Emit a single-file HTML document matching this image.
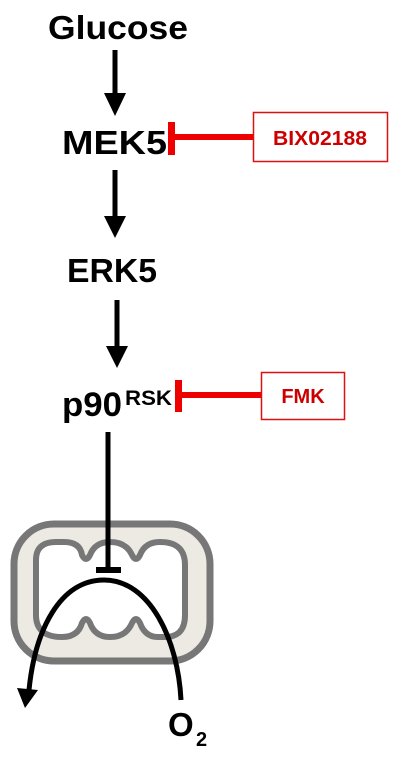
<!DOCTYPE html>
<html><head><style>
body{margin:0;background:#fff;}
svg{display:block}
text{font-family:"Liberation Sans",sans-serif;font-weight:bold;}
</style></head><body>
<svg width="400" height="760" viewBox="0 0 400 760">
<text x="118" y="39" font-size="33" text-anchor="middle" fill="#000" textLength="140" lengthAdjust="spacingAndGlyphs">Glucose</text>
<line x1="115" y1="50" x2="115" y2="95" stroke="#000" stroke-width="5"/>
<polygon points="104,93 126,93 115,116" fill="#000"/>
<text x="62" y="154" font-size="33" fill="#000" textLength="105" lengthAdjust="spacingAndGlyphs">MEK5</text>
<rect x="168" y="122" width="7" height="33" fill="#e00"/>
<line x1="172" y1="137" x2="254" y2="137" stroke="#e00" stroke-width="6"/>
<rect x="253.5" y="112.5" width="134" height="49" fill="#fff" stroke="#d11" stroke-width="1.5"/>
<text x="320" y="145" font-size="20" text-anchor="middle" fill="#c00" font-weight="normal" textLength="94" lengthAdjust="spacingAndGlyphs">BIX02188</text>
<line x1="115" y1="170" x2="115" y2="218" stroke="#000" stroke-width="5"/>
<polygon points="104,216 126,216 115,238" fill="#000"/>
<text x="67" y="282" font-size="33" fill="#000" textLength="90" lengthAdjust="spacingAndGlyphs">ERK5</text>
<line x1="117" y1="300" x2="117" y2="348" stroke="#000" stroke-width="5"/>
<polygon points="106,346 128,346 117,368" fill="#000"/>
<text x="62" y="416" font-size="34" fill="#000" textLength="60" lengthAdjust="spacingAndGlyphs">p90</text>
<text x="125" y="405" font-size="21" fill="#000" textLength="47" lengthAdjust="spacingAndGlyphs">RSK</text>
<rect x="175" y="380" width="7" height="32" fill="#e00"/>
<line x1="178" y1="395" x2="262" y2="395" stroke="#e00" stroke-width="6"/>
<rect x="261.5" y="372.5" width="83" height="47" fill="#fff" stroke="#d11" stroke-width="1.5"/>
<text x="303" y="403" font-size="20" text-anchor="middle" fill="#c00" font-weight="normal">FMK</text>
<!-- mitochondrion -->
<rect x="14" y="524" width="196" height="137" rx="40" fill="#eceae3" stroke="#777" stroke-width="7"/>
<path d="M36 560 Q36 542 56 542 L64 542 Q80 542 82 555 Q86 563 90 555 Q95 542 110 542 Q126 542 132 555 Q136 563 140 555 Q145 542 160 542 Q185 542 185 565 L185 615 Q185 637 165 637 L158 637 Q145 637 140 623 Q136 615 132 623 Q126 637 110 637 Q95 637 90 623 Q86 615 82 623 Q78 637 62 637 Q36 637 36 615 Z" fill="#fff" stroke="#777" stroke-width="6"/>
<line x1="108" y1="432" x2="108" y2="570" stroke="#000" stroke-width="5"/>
<rect x="96" y="567" width="25" height="6" fill="#000"/>
<path d="M181 700 C178 640 150 580 104 580 C60 580 35 630 29 690" fill="none" stroke="#000" stroke-width="5"/>
<polygon points="17,688 38,690 25,708" fill="#000"/>
<text x="168" y="736" font-size="33" fill="#000">O</text>
<text x="196" y="746" font-size="20" fill="#000">2</text>
</svg>
</body></html>
